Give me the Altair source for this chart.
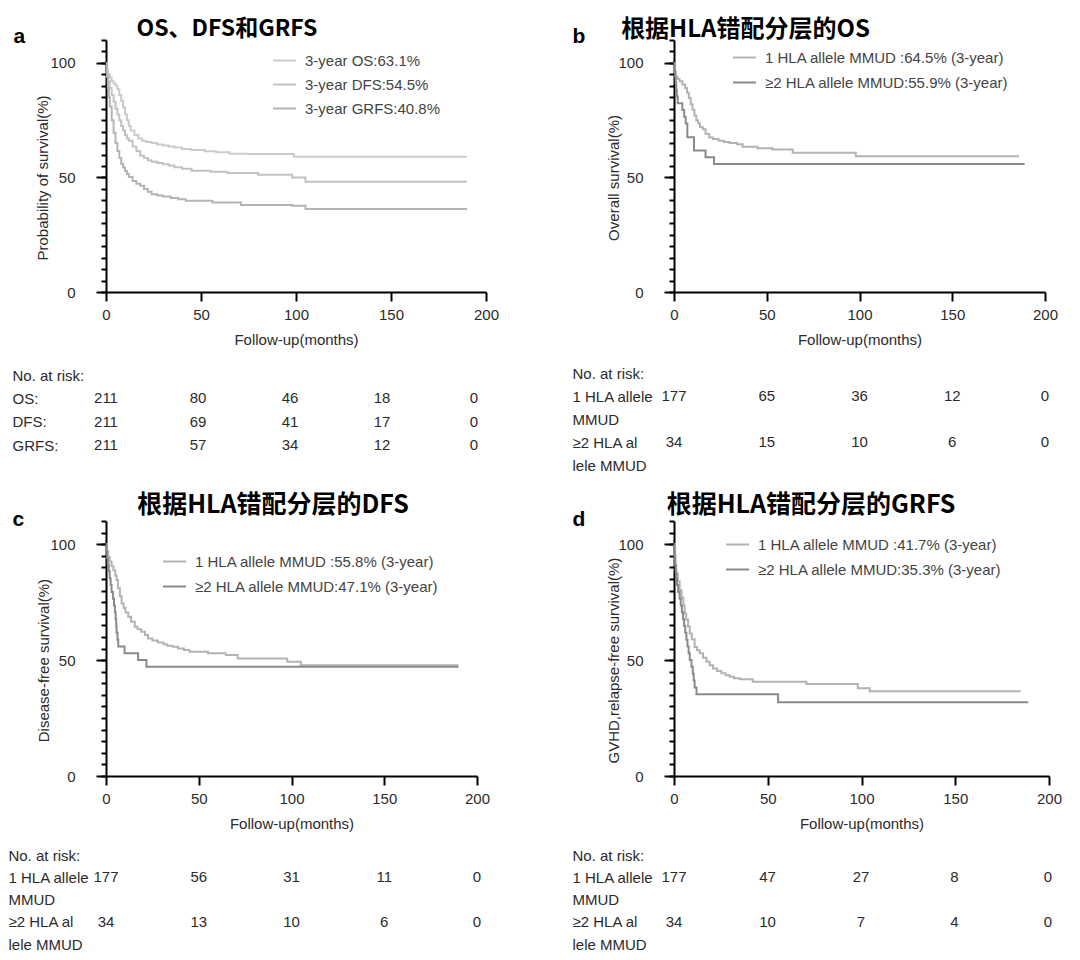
import altair as alt
import pandas as pd

FONT = "Liberation Sans"
CJK = "Noto Sans CJK SC"
TXT = "#2b2b2b"

x_ticks = [0, 50, 100, 150, 200]
y_major = [0, 50, 100]
y_minor = list(range(0, 111, 5))
risk_times = [0, 50, 100, 150, 200]

# ---------------- Panel a ----------------
a_title = "OS、DFS和GRFS"
a_letter = "a"
a_ytitle = "Probability of survival(%)"
a_series = ["3-year OS:63.1%", "3-year DFS:54.5%", "3-year GRFS:40.8%"]
a_colors = ["#cbcbcb", "#c2c2c2", "#b4b4b4"]
a_os_t = [0, 0.5, 1, 2, 3, 4, 5, 6, 7, 8, 9, 10, 11, 12, 13, 15, 17, 19, 21, 24, 27, 30, 33, 36, 40, 45, 52, 58, 65, 75, 99, 190]
a_os_s = [100, 97, 95, 93.5, 92, 91, 90, 88.5, 86, 83.5, 80.5, 77.5, 75, 72.5, 70.5, 68.5, 67, 66, 65.5, 65, 64.4, 63.9, 63.5, 63.1, 62.4, 62, 61.4, 61, 60.4, 60.2, 59, 59]
a_dfs_t = [0, 0.5, 1, 2, 3, 4, 5, 6, 7, 8, 9, 10, 11, 12, 14, 16, 18, 20, 22, 24, 27, 30, 33, 36, 40, 45, 55, 64, 80, 98, 105, 190]
a_dfs_s = [100, 95, 92, 89, 86, 83, 80, 77.5, 75, 72.5, 70.5, 68.5, 67, 66, 63.5, 61.5, 59.5, 58.5, 57.5, 56.9, 56.3, 55.8, 55.2, 54.5, 53.8, 52.9, 52.5, 51.9, 51.2, 50, 48.1, 48.1]
a_grfs_t = [0, 0.5, 1, 1.5, 2, 3, 4, 5, 6, 7, 8, 9, 10, 11, 12, 14, 16, 18, 20, 22, 24, 27, 30, 34, 38, 42, 56, 71, 98, 105, 190]
a_grfs_s = [100, 94, 89, 85, 81, 75, 69.5, 65, 61.5, 58.5, 56, 54.4, 52.8, 51.5, 50.2, 48.5, 47.3, 46.4, 45, 43.8, 42.7, 42.1, 41.7, 41, 40.5, 39.8, 39.1, 38, 37.6, 36.2, 36.2]
a_risk_labels = [["OS:"], ["DFS:"], ["GRFS:"]]
a_risk_counts = [[211, 80, 46, 18, 0], [211, 69, 41, 17, 0], [211, 57, 34, 12, 0]]

# ---------------- Panel b ----------------
b_title = "根据HLA错配分层的OS"
b_letter = "b"
b_ytitle = "Overall survival(%)"
b_series = ["1 HLA allele MMUD :64.5% (3-year)", "≥2 HLA allele MMUD:55.9% (3-year)"]
b1_t = [0, 0.5, 1, 2, 3, 4.5, 6, 7, 8, 9, 10, 11, 12, 13, 14, 15.5, 17, 19, 21, 24, 27, 30, 34, 37, 45, 53, 64, 98, 186]
b1_s = [100, 96, 94, 93, 92, 90.6, 89, 87, 84.7, 82, 79.5, 77, 75, 73.5, 72, 71, 69, 67.4, 66.8, 66, 65.5, 65, 64.5, 63.4, 62.8, 62.2, 60.8, 59.3, 59.3]
b2_t = [0, 0.3, 0.6, 0.9, 1.2, 1.5, 2, 4.5, 5.5, 6.3, 7.2, 10.8, 17, 21.6, 189]
b2_s = [100, 97.1, 94.1, 91.2, 88.2, 85.3, 82.4, 79.4, 76.5, 73.5, 67.6, 61.8, 58.8, 55.9, 55.9]
b_risk_counts = [[177, 65, 36, 12, 0], [34, 15, 10, 6, 0]]

# ---------------- Panel c ----------------
c_title = "根据HLA错配分层的DFS"
c_letter = "c"
c_ytitle = "Disease-free survival(%)"
c_series = ["1 HLA allele MMUD :55.8% (3-year)", "≥2 HLA allele MMUD:47.1% (3-year)"]
c1_t = [0, 0.5, 1.2, 2, 3, 4, 5, 5.7, 6.5, 7.5, 8.4, 9.5, 10.5, 12, 13.5, 15.5, 17, 19, 21, 22.7, 25, 28, 31, 33, 36, 38.8, 42, 45, 55, 64.6, 71, 97.7, 105, 190]
c1_s = [100, 97, 94.5, 92.5, 90.5, 88.8, 86.5, 84.5, 81, 77.5, 74.4, 72.5, 70.5, 68.7, 66.5, 64.4, 63.3, 62.2, 60.8, 59.3, 58.5, 57.6, 56.8, 56.2, 55.8, 55, 54.3, 53.6, 53, 52.2, 50.7, 49.3, 47.8, 47.8]
c2_t = [0, 0.3, 0.6, 1, 1.5, 2, 2.5, 3, 3.8, 4.3, 4.8, 5.2, 5.5, 5.7, 6.2, 6.6, 10, 17.3, 21.8, 190]
c2_s = [100, 97.1, 94.1, 91.2, 88.2, 85.3, 82.4, 79.4, 76.5, 73.5, 70.6, 67.6, 64.7, 61.8, 58.8, 55.9, 52.9, 50.0, 47.1, 47.1]
c_risk_counts = [[177, 56, 31, 11, 0], [34, 13, 10, 6, 0]]

# ---------------- Panel d ----------------
d_title = "根据HLA错配分层的GRFS"
d_letter = "d"
d_ytitle = "GVHD,relapse-free survival(%)"
d_series = ["1 HLA allele MMUD :41.7% (3-year)", "≥2 HLA allele MMUD:35.3% (3-year)"]
d1_t = [0, 0.4, 0.8, 1.2, 2, 3, 4, 5, 5.7, 6.5, 7.5, 8.4, 9.5, 11, 12.3, 13.7, 15.5, 17.3, 19, 20.8, 23, 25.3, 27.5, 29.7, 32, 35, 42, 70.6, 98, 104.4, 185]
d1_s = [100, 95, 91, 87.4, 84, 80.2, 77, 73.5, 70.1, 67.5, 64.5, 61.5, 59, 55.7, 54.2, 52.9, 51, 49.3, 47.8, 46.4, 45.3, 44.3, 43.5, 42.8, 42.2, 41.7, 40.7, 39.7, 37.9, 36.6, 36.6]
d2_t = [0, 0.2, 0.4, 0.6, 0.9, 1.2, 1.6, 2.2, 3, 3.6, 4.2, 4.8, 5.4, 6, 6.6, 7.2, 7.8, 8.4, 9.3, 10, 10.5, 11, 12, 55.5, 189]
d2_s = [100, 97.1, 94.1, 91.2, 88.2, 85.3, 82.4, 79.4, 76.5, 73.5, 70.6, 67.6, 64.7, 61.8, 58.8, 55.9, 52.9, 50.0, 47.1, 44.1, 41.2, 38.2, 35.3, 31.8, 31.8]
d_risk_counts = [[177, 47, 27, 8, 0], [34, 10, 7, 4, 0]]

hla_colors = ["#b3b3b3", "#8a8a8a"]
hla_risk_labels = [["1 HLA allele", "\u00a0MMUD"], ["≥2 HLA al", "lele MMUD"]]
risk_header = "No. at risk:"
x_title = "Follow-up(months)"


def km_panel(title, letter, ytitle, names, ts, ss, colors, width, height, geo):
    rows = []
    for name, tt, sv in zip(names, ts, ss):
        for t, s in zip(tt, sv):
            rows.append({"series": name, "t": t, "s": s})
    df = pd.DataFrame(rows)
    xsc = alt.Scale(domain=[0, 200], nice=False, zero=False)
    ysc = alt.Scale(domain=[0, 110], nice=False)
    legend = alt.Legend(
        orient="none", legendX=geo["lx"], legendY=geo["ly"], title=None,
        symbolType="stroke", symbolSize=529, symbolStrokeWidth=2,
        labelFont=FONT, labelFontSize=15, labelColor="#444444",
        labelOffset=8, rowPadding=geo["rp"], labelLimit=600, padding=0,
    )
    color = alt.Color("series:N", scale=alt.Scale(domain=names, range=colors), legend=legend)
    mid_y = height * 60 / 110
    layers = []
    for i, name in enumerate(names):
        if i == 0:
            xax = alt.Axis(orient="bottom", values=x_ticks, tickSize=9, tickWidth=2, tickColor="black",
                           domainColor="black", domainWidth=2, labelFont=FONT, labelFontSize=15,
                           labelColor=TXT, labelPadding=6, labelFlush=False, grid=False,
                           title=x_title, titleFont=FONT, titleFontSize=15, titleFontWeight="normal",
                           titleColor=TXT, titlePadding=10)
            yax = alt.Axis(orient="left", values=y_major, tickSize=10, tickWidth=2, tickColor="black",
                           domainColor="black", domainWidth=2, labelFont=FONT, labelFontSize=15,
                           labelColor=TXT, labelPadding=21, labelFlush=False, grid=False,
                           title=ytitle, titleFont=FONT, titleFontSize=15, titleFontWeight="normal",
                           titleColor=TXT, titleAngle=270, titleAlign="center", titleBaseline="middle",
                           titleX=geo["ytx"], titleY=mid_y)
        elif i == 1:
            xax = alt.Axis(orient="top", labels=False, ticks=False, domain=False, grid=False,
                           title=title, titleFont=CJK, titleFontSize=geo["tfs"], titleFontWeight="bold",
                           titleColor="black", titleAngle=0, titleAlign="center",
                           titleBaseline="alphabetic", titleX=geo["tx"], titleY=geo["ty"])
            yax = alt.Axis(orient="left", values=y_minor, labels=False, tickSize=5, tickWidth=2,
                           tickColor="black", domain=False, grid=False,
                           title=letter, titleFont=FONT, titleFontSize=21, titleFontWeight="bold",
                           titleColor="black", titleAngle=0, titleAlign="left",
                           titleBaseline="alphabetic", titleX=geo["lex"], titleY=geo["ley"])
        else:
            xax = None
            yax = None
        layer = alt.Chart(df).transform_filter(alt.datum.series == name).mark_line(
            interpolate="step-after", strokeWidth=2
        ).encode(
            x=alt.X("t:Q", scale=xsc, axis=xax),
            y=alt.Y("s:Q", scale=ysc, axis=yax),
            color=color,
        )
        layers.append(layer)
    return alt.layer(*layers).resolve_axis(x="independent", y="independent").properties(
        width=width, height=height
    )


def risk_table(label_groups, counts, width, height, label_pad, yr):
    domain = [risk_header]
    rows = []
    for lines, cnt in zip(label_groups, counts):
        domain.extend(lines)
        for t, n in zip(risk_times, cnt):
            rows.append({"row": lines[0], "t": t, "n": n})
    df = pd.DataFrame(rows)
    return alt.Chart(df).mark_text(font=FONT, fontSize=15, color=TXT, baseline="middle", align="center").encode(
        x=alt.X("t:Q", scale=alt.Scale(domain=[0, 200], nice=False), axis=None),
        y=alt.Y("row:N", scale=alt.Scale(type="point", domain=domain, range=yr, padding=0),
                axis=alt.Axis(labelAlign="left", labelBaseline="middle", labelPadding=label_pad,
                              ticks=False, domain=False, grid=False, labelFont=FONT, labelFontSize=15,
                              labelColor=TXT, labelLimit=400, title=None)),
        text=alt.Text("n:Q", format="d"),
    ).properties(width=width, height=height)


pa = km_panel(a_title, a_letter, a_ytitle, a_series, [a_os_t, a_dfs_t, a_grfs_t],
              [a_os_s, a_dfs_s, a_grfs_s], a_colors, 380, 252,
              {"lx": 166, "ly": 8, "rp": 3, "tfs": 23, "tx": 120.5, "ty": -5, "lex": -93, "ley": 2, "ytx": -64})
pb = km_panel(b_title, b_letter, b_ytitle, b_series, [b1_t, b2_t], [b1_s, b2_s], hla_colors, 371, 252,
              {"lx": 58, "ly": 5, "rp": 4, "tfs": 24, "tx": 71, "ty": -4, "lex": -102, "ley": 2, "ytx": -61})
pc = km_panel(c_title, c_letter, c_ytitle, c_series, [c1_t, c2_t], [c1_s, c2_s], hla_colors, 371, 255,
              {"lx": 56, "ly": 28, "rp": 4, "tfs": 25, "tx": 166.5, "ty": -9, "lex": -94, "ley": 4, "ytx": -63})
pd_ = km_panel(d_title, d_letter, d_ytitle, d_series, [d1_t, d2_t], [d1_s, d2_s], hla_colors, 375, 255,
               {"lx": 51, "ly": 11, "rp": 4, "tfs": 25, "tx": 136.5, "ty": -9, "lex": -102, "ley": 4, "ytx": -61})

ta = risk_table(a_risk_labels, a_risk_counts, 368, 229, 94, [83, 153])
tb = risk_table(hla_risk_labels, b_risk_counts, 371, 229, 102, [81, 173])
tc = risk_table(hla_risk_labels, c_risk_counts, 371, 176, 98, [79, 168])
td = risk_table(hla_risk_labels, d_risk_counts, 374, 176, 102, [79, 168])

chart = alt.concat(
    pa, pb, ta, tb, pc, pd_, tc, td,
    columns=2, spacing={"row": 0, "column": 188}, bounds="flush",
).resolve_scale(color="independent").resolve_legend(color="independent").properties(
    padding={"left": 0, "top": 9, "right": 4, "bottom": 0}, background="white"
).configure_view(stroke=None)

chart.save("out.html", embed_options={"renderer": "svg", "actions": False})
